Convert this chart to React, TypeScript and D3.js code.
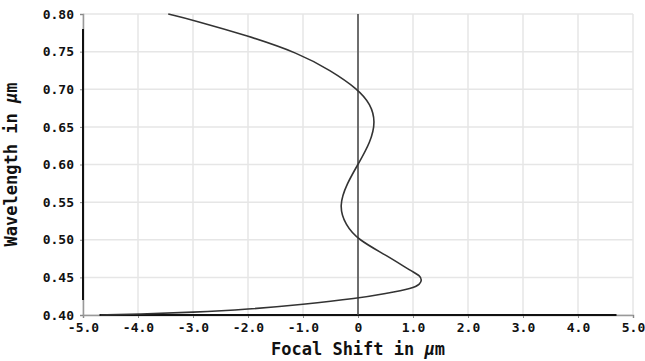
import React, { useEffect, useRef } from 'react';
import * as d3 from 'd3';

// chart values
const wavelengths = [
  0.4, 0.4012, 0.4035, 0.4075, 0.414, 0.4222, 0.4285, 0.4355, 0.441, 0.4465, 0.452, 0.457,
  0.48, 0.5, 0.52, 0.545, 0.575, 0.6, 0.63, 0.657, 0.68, 0.7, 0.725, 0.748, 0.771, 0.792, 0.8,
];
const focalShift = [
  -4.68, -4.0, -3.0, -2.0, -1.0, 0.0, 0.5, 1.0, 1.13, 1.16, 1.13, 1.0,
  0.5, 0.0, -0.23, -0.35, -0.2, 0.0, 0.23, 0.32, 0.23, 0.0, -0.5, -1.08, -2.0, -3.0, -3.45,
];
const xTicks = [-5, -4, -3, -2, -1, 0, 1, 2, 3, 4, 5];
const yTicks = [0.4, 0.45, 0.5, 0.55, 0.6, 0.65, 0.7, 0.75, 0.8];
const xDomain = [-5, 5];
const yDomain = [0.4, 0.8];
// darker stretches of the two axis lines
const xAxisDark = [-4.7, 4.7];
const yAxisDark = [0.42, 0.78];

const WIDTH = 645;
const HEIGHT = 361;

export default function App() {
  const ref = useRef<SVGSVGElement>(null);

  useEffect(() => {
    const svg = d3.select(ref.current);
    svg.selectAll('*').remove();

    const margin = { top: 14, right: 12, bottom: 46, left: 83 };
    const w = WIDTH - margin.left - margin.right;
    const h = HEIGHT - margin.top - margin.bottom;

    const x = d3.scaleLinear().domain(xDomain).range([0, w]);
    const y = d3.scaleLinear().domain(yDomain).range([h, 0]);

    const g = svg.append('g').attr('transform', `translate(${margin.left}, ${margin.top})`);

    // grid
    g.selectAll('.vgrid')
      .data(xTicks)
      .enter()
      .append('line')
      .attr('x1', d => x(d))
      .attr('x2', d => x(d))
      .attr('y1', 0)
      .attr('y2', h)
      .attr('stroke', '#e6e6e6')
      .attr('stroke-width', 1.5);
    g.selectAll('.hgrid')
      .data(yTicks)
      .enter()
      .append('line')
      .attr('x1', 0)
      .attr('x2', w)
      .attr('y1', d => y(d))
      .attr('y2', d => y(d))
      .attr('stroke', '#e6e6e6')
      .attr('stroke-width', 1.5);

    // axes
    const fmt = (d: number) => (d === 0 ? '0' : d.toFixed(1));
    const xAxis = d3.axisBottom(x).tickValues(xTicks).tickSize(3).tickPadding(5).tickFormat(d => fmt(+d));
    const yAxis = d3.axisLeft(y).tickValues(yTicks).tickSize(3).tickPadding(6).tickFormat(d => (+d).toFixed(2));

    const xg = g.append('g').attr('transform', `translate(0, ${h})`).call(xAxis);
    const yg = g.append('g').call(yAxis);
    [xg, yg].forEach(a => {
      a.select('.domain').attr('stroke', '#999').attr('stroke-width', 1.5);
      a.selectAll('.tick line').attr('stroke', '#888');
      a.selectAll('text')
        .attr('fill', '#111')
        .attr('font-family', '"DejaVu Sans Mono", monospace')
        .attr('font-weight', 'bold')
        .attr('font-size', 13);
    });

    g.append('line')
      .attr('x1', x(xAxisDark[0]))
      .attr('x2', x(xAxisDark[1]))
      .attr('y1', h)
      .attr('y2', h)
      .attr('stroke', '#111')
      .attr('stroke-width', 2);
    g.append('line')
      .attr('x1', 0)
      .attr('x2', 0)
      .attr('y1', y(yAxisDark[0]))
      .attr('y2', y(yAxisDark[1]))
      .attr('stroke', '#111')
      .attr('stroke-width', 2);

    // zero line
    g.append('line')
      .attr('x1', x(0))
      .attr('x2', x(0))
      .attr('y1', 0)
      .attr('y2', h)
      .attr('stroke', '#444')
      .attr('stroke-width', 1.5);

    // focal shift curve
    const pts = wavelengths.map((wl, i) => ({ wl, fs: focalShift[i] }));
    const line = d3
      .line<{ wl: number; fs: number }>()
      .x(d => x(d.fs))
      .y(d => y(d.wl))
      .curve(d3.curveBasis);
    g.append('path')
      .datum(pts)
      .attr('d', line)
      .attr('fill', 'none')
      .attr('stroke', '#333')
      .attr('stroke-width', 1.6);

    // axis titles
    const title = (sel: d3.Selection<SVGTextElement, unknown, null, undefined>, label: string) => {
      sel
        .attr('text-anchor', 'middle')
        .attr('font-family', '"DejaVu Sans Mono", monospace')
        .attr('font-weight', 'bold')
        .attr('font-size', 17)
        .attr('fill', '#111');
      sel.append('tspan').text(label + ' ');
      sel.append('tspan').attr('font-style', 'italic').text('μ');
      sel.append('tspan').text('m');
    };
    title(
      g.append('text').attr('x', w / 2).attr('y', h + 40),
      'Focal Shift in'
    );
    title(
      g.append('text').attr('transform', `translate(${-66}, ${h / 2}) rotate(-90)`),
      'Wavelength in'
    );
  }, []);

  return (
    <svg
      ref={ref}
      width={WIDTH}
      height={HEIGHT}
      style={{ position: 'absolute', left: 0, top: 0, background: '#fff' }}
    />
  );
}
